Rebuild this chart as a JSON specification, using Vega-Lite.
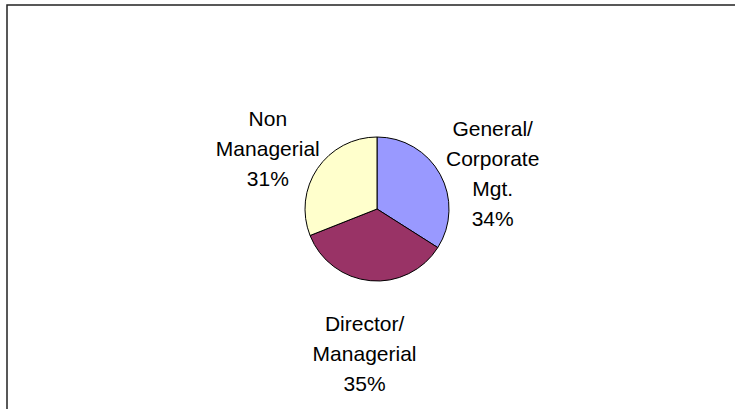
{
  "$schema": "https://vega.github.io/schema/vega-lite/v6.json",
  "width": 735,
  "height": 409,
  "autosize": {"type": "fit", "contains": "padding"},
  "padding": {"left": 7, "top": 5, "right": -12, "bottom": -4},
  "background": "white",
  "view": {"stroke": "#222222", "strokeWidth": 1.5},
  "data": {
    "values": [
      {"category": "General/ Corporate Mgt.", "label": "General/\nCorporate\nMgt.\n34%", "percent": 34, "order": 1},
      {"category": "Director/ Managerial", "label": "Director/\nManagerial\n35%", "percent": 35, "order": 2},
      {"category": "Non Managerial", "label": "Non\nManagerial\n31%", "percent": 31, "order": 3}
    ]
  },
  "encoding": {
    "theta": {"field": "percent", "type": "quantitative", "stack": true},
    "order": {"field": "order", "type": "quantitative"}
  },
  "layer": [
    {
      "mark": {"type": "arc", "outerRadius": 72, "stroke": "black", "strokeWidth": 1},
      "encoding": {
        "color": {
          "field": "category",
          "type": "nominal",
          "scale": {
            "domain": ["General/ Corporate Mgt.", "Director/ Managerial", "Non Managerial"],
            "range": ["#9999FF", "#993366", "#FFFFCC"]
          },
          "legend": null
        }
      }
    },
    {
      "mark": {
        "type": "text",
        "radius": 132,
        "dy": -15,
        "fontSize": 21,
        "font": "Liberation Sans",
        "lineBreak": "\n",
        "lineHeight": 30,
        "color": "black",
        "align": "center",
        "baseline": "middle"
      },
      "encoding": {"text": {"field": "label", "type": "nominal"}}
    }
  ]
}
